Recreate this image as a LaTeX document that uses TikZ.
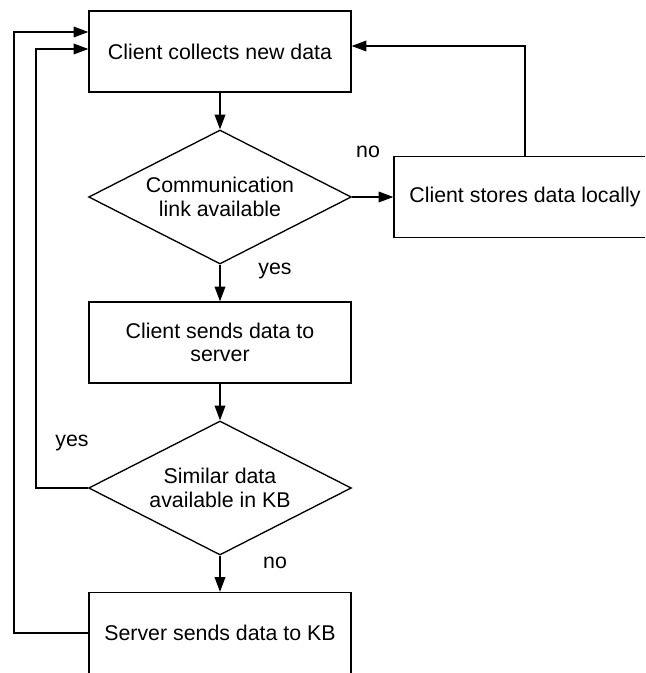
\documentclass[tikz,border=0pt]{standalone}
\usepackage{fontspec}
\setmainfont{Liberation Sans}
\usetikzlibrary{shapes.geometric,arrows.meta}

\begin{document}
\begin{tikzpicture}[x=0.75pt,y=-0.75pt]
\tikzstyle{every node}+=[inner sep=0pt, align=center, font=\fontsize{16}{17.5}\selectfont]
\tikzstyle{stepbox}=[draw=black, line width=1pt, minimum width=196.5pt, minimum height=60.75pt]
\tikzstyle{decision}=[draw=black, line width=1pt, diamond, aspect=1.96, minimum width=197pt, minimum height=100.5pt]
\tikzstyle{arr}=[black, line width=1pt, -{Triangle[length=11pt,width=8pt]}]
\useasboundingbox (0,0) rectangle (645,673);
\clip (0,0) rectangle (645,673);
% boxes and decisions
\node [stepbox] (collect) at (220,51.5) {Client collects new data};
\node [decision] (link) at (220,197) {Communication\\link available};
\node [stepbox] (store) at (525,197) {Client stores data locally};
\node [stepbox] (send) at (220,342.5) {Client sends data to\\server};
\node [decision] (similar) at (220,488) {Similar data\\available in KB};
\node [stepbox] (kb) at (220,633) {Server sends data to KB};
% labels
\draw (368,152) node {no};
\draw (275,271) node {yes};
\draw (72,443) node {yes};
\draw (275,563) node {no};
% corners of the loops
\coordinate (outerup) at (14,32);
\coordinate (innerup) at (36,49);
% connectors
\draw [arr] (collect) -- (link);
\draw [arr] (link) -- (send);
\draw [arr] (send) -- (similar);
\draw [arr] (similar) -- (kb);
\draw [arr] (link.east) -- (store.west);
\draw [arr] (store.north) |- (collect.east |- 0,46);
\draw [arr] (kb.west) -| (outerup) -- (collect.west |- outerup);
\draw [arr] (similar.west) -| (innerup) -- (collect.west |- innerup);
\end{tikzpicture}
\end{document}
